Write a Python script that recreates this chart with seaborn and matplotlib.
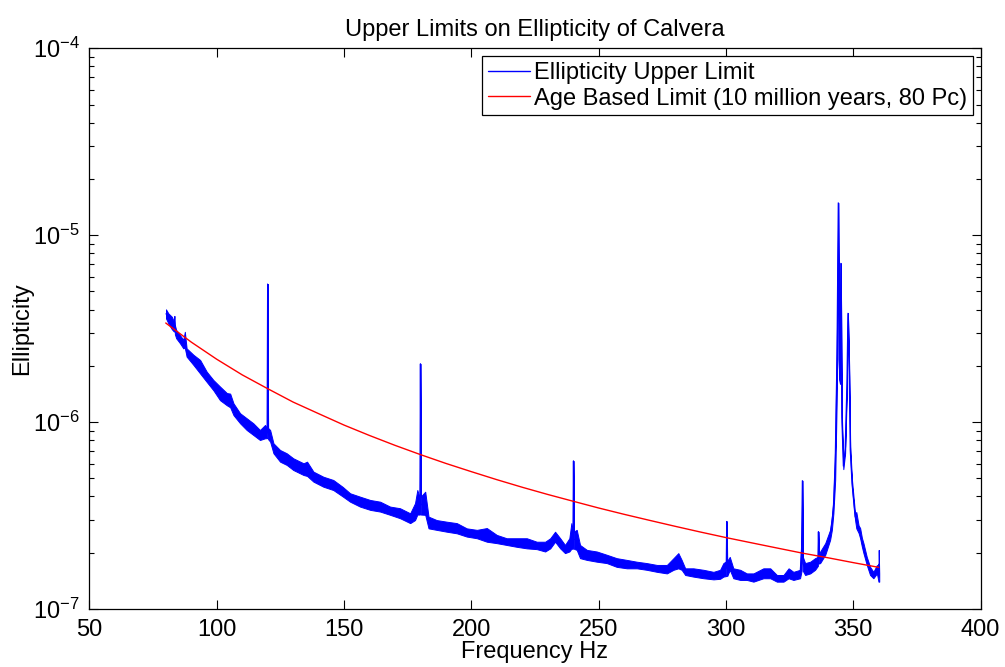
import numpy as np
import pandas as pd
import matplotlib
matplotlib.use("Agg")
import matplotlib.pyplot as plt
import seaborn as sns
from matplotlib.ticker import LogLocator, NullLocator

# ---------------- data ----------------
band_freq = [80.1, 81.0, 82.4, 83.2, 83.4, 83.6, 84.1, 85.6, 86.9, 87.5, 88.2, 90.9, 93.5, 96.1,
             98.7, 101.3, 104.0, 105.3, 106.6, 109.2, 111.8, 114.4, 117.0, 119.0, 119.8, 120.0,
             120.2, 121.0, 122.3, 124.9, 127.5, 130.1, 134.1, 135.5, 138.0, 141.9, 145.8, 149.5,
             152.4, 156.3, 160.3, 164.2, 168.1, 172.0, 176.0, 177.9, 178.8, 179.8, 180.0, 180.2,
             181.9, 183.2, 186.4, 190.4, 194.3, 198.2, 202.2, 206.1, 210.0, 213.9, 217.9, 221.8,
             225.7, 229.0, 231.0, 232.9, 234.9, 236.8, 238.5, 239.3, 239.9, 240.1, 240.3, 241.4,
             242.7, 245.4, 249.3, 253.2, 257.1, 261.1, 265.0, 268.9, 272.9, 276.8, 279.4, 281.3,
             282.6, 284.0, 287.2, 291.2, 295.1, 297.7, 299.0, 300.1, 300.3, 300.5, 301.5, 302.9,
             305.6, 308.2, 310.8, 314.7, 317.4, 320.0, 322.6, 324.6, 326.5, 329.1, 329.7, 330.0,
             330.2, 331.1, 333.1, 335.0, 336.1, 336.3, 336.5, 337.0, 339.0, 340.9, 341.6, 342.2,
             342.9, 343.6, 344.1, 344.4, 344.8, 345.1, 345.5, 346.1, 346.8, 347.5, 347.9, 348.4,
             348.8, 349.5, 350.7, 351.2, 352.1, 352.7, 353.4, 354.0, 355.3, 356.6, 357.9, 359.3,
             359.9, 360.0, 360.2]

band_high = [4.01e-6, 3.82e-6, 3.66e-6, 3.45e-6, 3.70e-6, 3.30e-6, 3.11e-6, 2.92e-6, 2.75e-6, 3.04e-6,
             2.48e-6, 2.29e-6, 2.15e-6, 1.86e-6, 1.68e-6, 1.55e-6, 1.43e-6, 1.42e-6, 1.26e-6, 1.115e-6,
             1.048e-6, 9.85e-7, 9.07e-7, 9.65e-7, 9.3e-7, 5.48e-6, 9.3e-7, 9.07e-7, 7.70e-7, 7.09e-7,
             6.81e-7, 6.40e-7, 6.02e-7, 6.14e-7, 5.43e-7, 5.10e-7, 4.90e-7, 4.50e-7, 4.16e-7, 3.99e-7,
             3.83e-7, 3.75e-7, 3.53e-7, 3.46e-7, 3.25e-7, 3.68e-7, 4.33e-7, 3.9e-7, 2.05e-6, 4.0e-7,
             4.24e-7, 3.12e-7, 2.99e-7, 2.93e-7, 2.88e-7, 2.70e-7, 2.65e-7, 2.71e-7, 2.49e-7, 2.39e-7,
             2.39e-7, 2.39e-7, 2.29e-7, 2.29e-7, 2.39e-7, 2.59e-7, 2.39e-7, 2.20e-7, 2.39e-7, 2.88e-7,
             2.6e-7, 6.20e-7, 2.6e-7, 2.65e-7, 2.20e-7, 2.07e-7, 2.03e-7, 1.95e-7, 1.87e-7, 1.83e-7,
             1.79e-7, 1.76e-7, 1.72e-7, 1.72e-7, 1.87e-7, 1.99e-7, 1.83e-7, 1.65e-7, 1.65e-7, 1.62e-7,
             1.58e-7, 1.62e-7, 1.76e-7, 1.8e-7, 2.94e-7, 1.8e-7, 1.90e-7, 1.65e-7, 1.62e-7, 1.55e-7,
             1.55e-7, 1.65e-7, 1.65e-7, 1.52e-7, 1.52e-7, 1.65e-7, 1.58e-7, 1.62e-7, 2.53e-7, 4.86e-7,
             1.9e-7, 1.76e-7, 1.79e-7, 1.87e-7, 1.9e-7, 2.59e-7, 1.95e-7, 2.03e-7, 2.25e-7, 2.65e-7,
             3.12e-7, 3.83e-7, 7.39e-7, 3.11e-6, 1.49e-5, 2.6e-6, 1.8e-6, 7.07e-6, 1.115e-6, 6.02e-7,
             7.4e-7, 1.68e-6, 3.82e-6, 1.98e-6, 7.4e-7, 4.90e-7, 3.25e-7, 3.3e-7, 2.8e-7, 2.71e-7,
             2.4e-7, 2.25e-7, 1.90e-7, 1.68e-7, 1.58e-7, 1.72e-7, 1.6e-7, 2.07e-7, 1.55e-7]

band_low = [3.59e-6, 3.38e-6, 3.14e-6, 3.05e-6, 3.30e-6, 2.95e-6, 2.81e-6, 2.64e-6, 2.48e-6, 2.50e-6,
            2.24e-6, 2.02e-6, 1.82e-6, 1.64e-6, 1.48e-6, 1.31e-6, 1.23e-6, 1.20e-6, 1.09e-6, 9.85e-7,
            9.07e-7, 8.53e-7, 8.02e-7, 8.19e-7, 8.2e-7, 5.48e-6, 8.1e-7, 7.86e-7, 6.81e-7, 6.14e-7,
            5.90e-7, 5.54e-7, 5.21e-7, 5.15e-7, 4.80e-7, 4.51e-7, 4.33e-7, 4.00e-7, 3.75e-7, 3.53e-7,
            3.39e-7, 3.32e-7, 3.19e-7, 3.06e-7, 2.88e-7, 2.99e-7, 3.2e-7, 3.2e-7, 2.05e-6, 3.2e-7,
            3.19e-7, 2.70e-7, 2.65e-7, 2.59e-7, 2.54e-7, 2.44e-7, 2.39e-7, 2.29e-7, 2.25e-7, 2.20e-7,
            2.15e-7, 2.11e-7, 2.09e-7, 2.03e-7, 2.11e-7, 2.29e-7, 2.11e-7, 1.99e-7, 2.03e-7, 2.10e-7,
            2.1e-7, 6.20e-7, 2.1e-7, 2.07e-7, 1.87e-7, 1.83e-7, 1.79e-7, 1.76e-7, 1.68e-7, 1.65e-7,
            1.65e-7, 1.62e-7, 1.58e-7, 1.55e-7, 1.62e-7, 1.65e-7, 1.62e-7, 1.52e-7, 1.49e-7, 1.46e-7,
            1.44e-7, 1.45e-7, 1.49e-7, 1.5e-7, 2.94e-7, 1.5e-7, 1.62e-7, 1.46e-7, 1.43e-7, 1.43e-7,
            1.40e-7, 1.46e-7, 1.46e-7, 1.40e-7, 1.40e-7, 1.46e-7, 1.43e-7, 1.46e-7, 1.6e-7, 4.86e-7,
            1.6e-7, 1.52e-7, 1.55e-7, 1.62e-7, 1.7e-7, 2.59e-7, 1.75e-7, 1.76e-7, 1.95e-7, 2.34e-7,
            2.65e-7, 3.25e-7, 4.90e-7, 1.54e-6, 1.49e-5, 1.7e-6, 1.6e-6, 7.07e-6, 1.0e-6, 5.6e-7,
            6.8e-7, 1.5e-6, 3.82e-6, 1.75e-6, 6.8e-7, 4.5e-7, 3.0e-7, 2.7e-7, 2.55e-7, 2.39e-7,
            2.15e-7, 1.99e-7, 1.72e-7, 1.52e-7, 1.46e-7, 1.55e-7, 1.40e-7, 1.40e-7, 1.40e-7]

limit_freq = [80, 90, 100, 110, 120, 130, 140, 150, 160, 170, 180, 190, 200, 210, 220,
              230, 240, 250, 260, 270, 280, 290, 300, 310, 320, 330, 340, 350, 360]
limit_vals = [3.39e-6, 2.68e-6, 2.17e-6, 1.79e-6, 1.51e-6, 1.28e-6, 1.11e-6, 9.64e-7, 8.48e-7,
              7.51e-7, 6.70e-7, 6.01e-7, 5.43e-7, 4.92e-7, 4.48e-7, 4.10e-7, 3.77e-7, 3.47e-7,
              3.21e-7, 2.98e-7, 2.77e-7, 2.58e-7, 2.41e-7, 2.26e-7, 2.12e-7, 1.99e-7, 1.88e-7,
              1.77e-7, 1.67e-7]

x_ticks = [50, 100, 150, 200, 250, 300, 350, 400]

title_text = "Upper Limits on Ellipticity of Calvera"
xlabel_text = "Frequency Hz"
ylabel_text = "Ellipticity"
label_blue = "Ellipticity Upper Limit"
label_red = "Age Based Limit (10 million years, 80 Pc)"

# ---------------- style ----------------
sns.set_theme(style="white")
plt.rcParams["font.family"] = ["Liberation Sans", "DejaVu Sans"]
plt.rcParams["mathtext.fontset"] = "custom"
plt.rcParams["mathtext.rm"] = "Liberation Sans"
plt.rcParams["mathtext.it"] = "Liberation Sans:italic"
plt.rcParams["mathtext.bf"] = "Liberation Sans:bold"
plt.rcParams["text.color"] = "black"
plt.rcParams["axes.labelcolor"] = "black"
FS = 17

band_df = pd.DataFrame({
    "freq": band_freq + band_freq,
    "ell": band_high + band_low,
})

fig = plt.figure(figsize=(10.05, 6.67), dpi=100)
fig.patch.set_facecolor("white")
ax = fig.add_axes([0.0889, 0.0870, 0.8868, 0.8406])

sns.lineplot(data=band_df, x="freq", y="ell", color="blue", linewidth=0.8,
             estimator="mean", errorbar=("pi", 100),
             err_kws=dict(alpha=1, linewidth=0.7),
             label=label_blue, ax=ax)
sns.lineplot(x=limit_freq, y=limit_vals, color="red", linewidth=1.0,
             label=label_red, ax=ax)

ax.set_yscale("log")
ax.set_xlim(50, 400)
ax.set_ylim(1e-7, 1e-4)
ax.set_xticks(x_ticks)
ax.set_xticklabels([str(t) for t in x_ticks])
ax.xaxis.set_minor_locator(NullLocator())
ax.yaxis.set_major_locator(LogLocator(base=10))
ax.yaxis.set_minor_locator(LogLocator(base=10, subs=range(2, 10)))

ax.tick_params(which="both", direction="in", top=True, right=True,
               bottom=True, left=True,
               colors="black", labelsize=FS, width=0.8)
ax.tick_params(which="major", length=6.5, pad=7)
ax.tick_params(which="minor", length=3.6)
for s in ax.spines.values():
    s.set_color("black")
    s.set_linewidth(0.9)

ax.set_title(title_text, fontsize=FS, color="black", pad=9)
ax.set_xlabel(xlabel_text, fontsize=FS, color="black", labelpad=0)
ax.set_ylabel(ylabel_text, fontsize=FS, color="black", labelpad=-0.5)

handles, labels = ax.get_legend_handles_labels()
leg = ax.legend(handles, labels, loc="upper right", fontsize=FS, frameon=True,
                fancybox=False, framealpha=1, edgecolor="black",
                borderaxespad=0.33, borderpad=0.25, labelspacing=0.15,
                handlelength=1.8, handletextpad=0.15)
leg.get_frame().set_linewidth(0.9)
for t in leg.get_texts():
    t.set_color("black")
for l in leg.get_lines():
    l.set_linewidth(1.0)

fig.savefig("out.png", dpi=100, facecolor="white")
